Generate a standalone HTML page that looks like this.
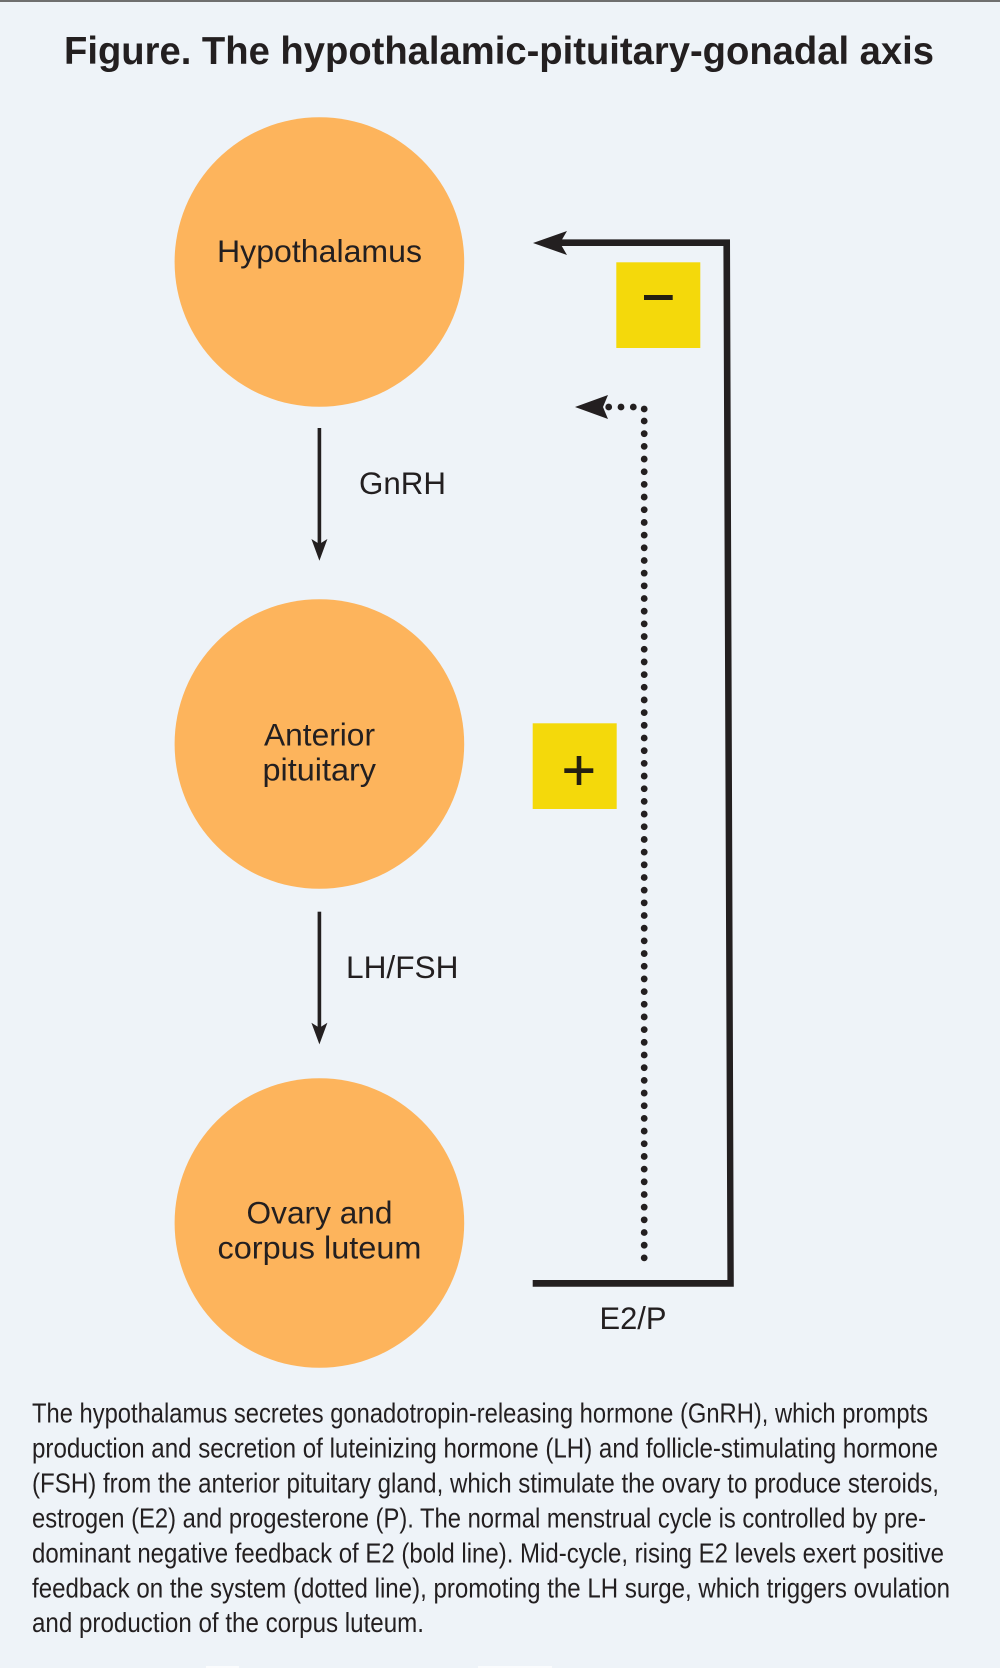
<!DOCTYPE html>
<html lang="en">
<head>
<meta charset="utf-8">
<title>Figure. The hypothalamic-pituitary-gonadal axis</title>
<style>
html,body{margin:0;padding:0;background:#eef3f8;}
svg{display:block;}
text{font-family:"Liberation Sans",Arial,sans-serif;fill:#231f20;}
.lab{font-size:31.5px;}
.body{font-size:28px;}
</style>
</head>
<body>
<svg xmlns="http://www.w3.org/2000/svg" width="1000" height="1668" viewBox="0 0 1000 1668">
<rect width="1000" height="1668" fill="#eef3f8"/>
<rect width="1000" height="2" fill="#6f6f6f"/>
<rect x="206" y="1666" width="33" height="2" fill="#fbfcfd"/>
<rect x="478" y="1666" width="74" height="2" fill="#fbfcfd"/>

<text x="64" y="64" font-size="39" font-weight="700" textLength="870" lengthAdjust="spacingAndGlyphs">Figure. The hypothalamic-pituitary-gonadal axis</text>

<circle cx="319.4" cy="262" r="144.8" fill="#fdb45c"/>
<circle cx="319.4" cy="744" r="144.8" fill="#fdb45c"/>
<circle cx="319.4" cy="1223" r="144.8" fill="#fdb45c"/>

<text class="lab" x="217" y="262" textLength="205" lengthAdjust="spacingAndGlyphs">Hypothalamus</text>
<text class="lab" x="264" y="745.7" textLength="111" lengthAdjust="spacingAndGlyphs">Anterior</text>
<text class="lab" x="262.5" y="780.7" textLength="113.5" lengthAdjust="spacingAndGlyphs">pituitary</text>
<text class="lab" x="246.5" y="1223.3" textLength="146" lengthAdjust="spacingAndGlyphs">Ovary and</text>
<text class="lab" x="217.5" y="1258.7" textLength="204" lengthAdjust="spacingAndGlyphs">corpus luteum</text>
<text class="lab" x="359" y="493.8" textLength="87" lengthAdjust="spacingAndGlyphs">GnRH</text>
<text class="lab" x="346" y="978" textLength="112.5" lengthAdjust="spacingAndGlyphs">LH/FSH</text>
<text class="lab" x="599.5" y="1329" textLength="67" lengthAdjust="spacingAndGlyphs">E2/P</text>

<!-- down arrows -->
<rect x="317.6" y="428" width="3.6" height="118" fill="#231f20"/>
<path d="M319.4 560.7 L311.4 539 L319.4 544 L327.4 539 Z" fill="#231f20"/>
<rect x="317.6" y="911.7" width="3.6" height="118" fill="#231f20"/>
<path d="M319.4 1044.4 L311.4 1022.7 L319.4 1027.7 L327.4 1022.7 Z" fill="#231f20"/>

<!-- yellow boxes -->
<rect x="616.3" y="262.3" width="84" height="85.7" fill="#f4d90b"/>
<rect x="644" y="295" width="28.7" height="5" fill="#231f10"/>
<rect x="532.7" y="723.3" width="84" height="85.7" fill="#f4d90b"/>
<rect x="564.3" y="768.3" width="29" height="4.7" fill="#231f10"/>
<rect x="576.7" y="756" width="4.6" height="29" fill="#231f10"/>

<!-- solid feedback -->
<path d="M555 239.4 H730 L733.8 1286.7 H532.7 V1280 H727.4 L723.4 246 H555 Z" fill="#231f20"/>
<path d="M533 243 L567 231 L560 243 L567 255 Z" fill="#231f20"/>

<!-- dotted feedback -->
<line x1="644.2" y1="421" x2="644.2" y2="1258.5" stroke="#231f20" stroke-width="6.8" stroke-linecap="round" stroke-dasharray="0 12.68"/>
<circle cx="644.2" cy="409" r="3.4" fill="#231f20"/>
<circle cx="633.3" cy="407" r="3.4" fill="#231f20"/>
<circle cx="621" cy="407" r="3.4" fill="#231f20"/>
<circle cx="608.7" cy="407" r="3.4" fill="#231f20"/>
<path d="M575 407 L608 395 L603 407 L608 419 Z" fill="#231f20"/>

<!-- caption -->
<text class="body" x="32" y="1422.5" textLength="896" lengthAdjust="spacingAndGlyphs">The hypothalamus secretes gonadotropin-releasing hormone (GnRH), which prompts</text>
<text class="body" x="32" y="1457.5" textLength="906" lengthAdjust="spacingAndGlyphs">production and secretion of luteinizing hormone (LH) and follicle-stimulating hormone</text>
<text class="body" x="32" y="1492.5" textLength="907" lengthAdjust="spacingAndGlyphs">(FSH) from the anterior pituitary gland, which stimulate the ovary to produce steroids,</text>
<text class="body" x="32" y="1527.5" textLength="894" lengthAdjust="spacingAndGlyphs">estrogen (E2) and progesterone (P). The normal menstrual cycle is controlled by pre-</text>
<text class="body" x="32" y="1562.5" textLength="912" lengthAdjust="spacingAndGlyphs">dominant negative feedback of E2 (bold line). Mid-cycle, rising E2 levels exert positive</text>
<text class="body" x="32" y="1597.5" textLength="918" lengthAdjust="spacingAndGlyphs">feedback on the system (dotted line), promoting the LH surge, which triggers ovulation</text>
<text class="body" x="32" y="1632" textLength="392" lengthAdjust="spacingAndGlyphs">and production of the corpus luteum.</text>
</svg>
</body>
</html>
